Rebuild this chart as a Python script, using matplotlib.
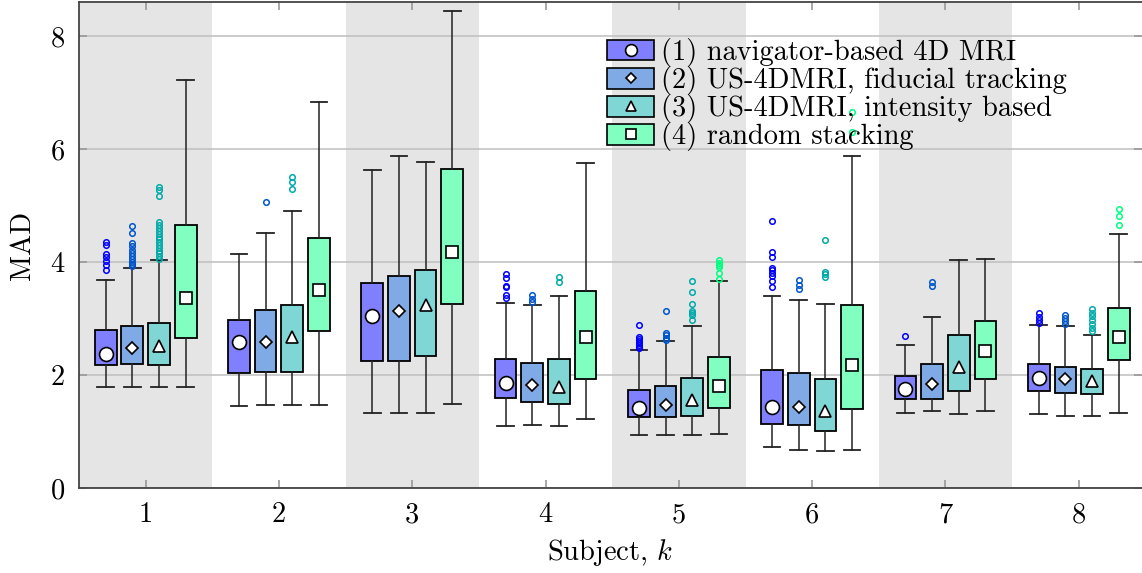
#!/usr/bin/env python3
"""Box plots of MAD per subject for four 4D MRI reconstruction methods."""

import matplotlib

matplotlib.use("Agg")
import matplotlib.pyplot as plt  # noqa: E402
from matplotlib.lines import Line2D  # noqa: E402
from matplotlib.patches import Rectangle  # noqa: E402

subjects = [1, 2, 3, 4, 5, 6, 7, 8]
labels = [
    "(1) navigator-based 4D MRI",
    "(2) US-4DMRI, fiducial tracking",
    "(3) US-4DMRI, intensity based",
    "(4) random stacking",
]

# per-method summary values (one entry per subject)
nav_q1 = [2.17, 2.03, 2.25, 1.60, 1.25, 1.13, 1.58, 1.72]
nav_q3 = [2.80, 2.97, 3.63, 2.28, 1.73, 2.09, 1.99, 2.19]
nav_med = [2.37, 2.58, 3.04, 1.85, 1.42, 1.44, 1.75, 1.94]
nav_lo = [1.79, 1.45, 1.33, 1.10, 0.94, 0.73, 1.33, 1.31]
nav_hi = [3.68, 4.14, 5.62, 3.28, 2.44, 3.39, 2.53, 2.88]
nav_out = [
    [4.36, 4.30, 4.14, 4.08, 4.01, 3.95, 3.86], [], [],
    [3.78, 3.72, 3.58, 3.55, 3.41, 3.36],
    [2.88, 2.68, 2.64, 2.60, 2.56, 2.53, 2.50, 2.47],
    [4.73, 4.17, 4.09, 3.89, 3.85, 3.80, 3.75, 3.67, 3.56],
    [2.69], [3.10, 3.03, 2.97, 2.92],
]

fid_q1 = [2.19, 2.06, 2.24, 1.53, 1.26, 1.12, 1.58, 1.68]
fid_q3 = [2.87, 3.15, 3.76, 2.22, 1.81, 2.03, 2.19, 2.15]
fid_med = [2.47, 2.58, 3.13, 1.82, 1.46, 1.44, 1.84, 1.92]
fid_lo = [1.79, 1.46, 1.33, 1.12, 0.94, 0.67, 1.36, 1.27]
fid_hi = [3.90, 4.51, 5.88, 3.23, 2.60, 3.33, 3.03, 2.87]
fid_out = [
    [4.64, 4.52, 4.34, 4.28, 4.22, 4.16, 4.11, 4.05, 4.00, 3.96, 3.92],
    [5.06], [], [3.42, 3.35, 3.30], [3.13, 2.74, 2.70, 2.66, 2.62],
    [3.68, 3.59, 3.53], [3.65, 3.58], [3.06, 3.00, 2.95, 2.90],
]

int_q1 = [2.17, 2.06, 2.34, 1.49, 1.27, 1.00, 1.71, 1.66]
int_q3 = [2.92, 3.23, 3.85, 2.28, 1.95, 1.92, 2.71, 2.10]
int_med = [2.51, 2.68, 3.24, 1.79, 1.55, 1.36, 2.14, 1.89]
int_lo = [1.79, 1.47, 1.33, 1.10, 0.94, 0.66, 1.31, 1.27]
int_hi = [4.03, 4.91, 5.76, 3.39, 2.87, 3.26, 4.04, 2.71]
int_out = [
    [5.32, 5.27, 5.17, 4.70, 4.65, 4.60, 4.55, 4.50, 4.45, 4.40, 4.35,
     4.30, 4.25, 4.20, 4.15, 4.10, 4.05],
    [5.51, 5.42, 5.29], [], [3.74, 3.65],
    [3.66, 3.46, 3.26, 3.14, 3.10, 3.06, 2.98],
    [4.39, 3.83, 3.79, 3.74], [],
    [3.16, 3.10, 3.04, 2.98, 2.90, 2.84, 2.78],
]

rnd_q1 = [2.65, 2.77, 3.26, 1.92, 1.42, 1.39, 1.92, 2.27]
rnd_q3 = [4.65, 4.43, 5.64, 3.49, 2.31, 3.23, 2.96, 3.18]
rnd_med = [3.37, 3.50, 4.17, 2.67, 1.80, 2.17, 2.42, 2.67]
rnd_lo = [1.79, 1.47, 1.48, 1.22, 0.96, 0.67, 1.36, 1.33]
rnd_hi = [7.22, 6.83, 8.44, 5.75, 3.67, 5.87, 4.05, 4.49]
rnd_out = [
    [], [], [], [], [4.04, 3.99, 3.95, 3.91, 3.81, 3.69],
    [6.65, 6.30], [], [4.94, 4.82, 4.65],
]

METHODS = [
    (nav_q1, nav_q3, nav_med, nav_lo, nav_hi, nav_out),
    (fid_q1, fid_q3, fid_med, fid_lo, fid_hi, fid_out),
    (int_q1, int_q3, int_med, int_lo, int_hi, int_out),
    (rnd_q1, rnd_q3, rnd_med, rnd_lo, rnd_hi, rnd_out),
]
BASE = ["#0000ff", "#0055cc", "#00aaaa", "#00ff80"]
FILL = ["#8080ff", "#80aae6", "#80d5d5", "#80ffc0"]
MARKERS = [("o", 10), ("D", 6.5), ("^", 8), ("s", 9)]
OFFSETS = [-0.3, -0.1, 0.1, 0.3]

plt.rcParams.update({
    "font.family": ["cmr10", "DejaVu Serif"],
    "mathtext.fontset": "cm",
    "axes.formatter.use_mathtext": True,
    "font.size": 20.5,
})


def draw_method(ax, i):
    q1, q3, med, lo, hi, out = METHODS[i]
    stats = []
    for k in range(len(subjects)):
        stats.append({"q1": q1[k], "q3": q3[k], "med": med[k], "mean": med[k],
                      "whislo": lo[k], "whishi": hi[k], "fliers": out[k]})
    pos = [s + OFFSETS[i] for s in subjects]
    mk, ms = MARKERS[i]
    ax.bxp(stats, positions=pos, widths=0.163, capwidths=0.125,
           showmeans=True, patch_artist=True,
           boxprops=dict(facecolor=FILL[i], edgecolor="black", linewidth=1.3),
           whiskerprops=dict(color="#222222", linewidth=1.1),
           capprops=dict(color="#222222", linewidth=1.3),
           medianprops=dict(linewidth=0),
           meanprops=dict(marker=mk, markersize=ms, markerfacecolor="white",
                          markeredgecolor="black", markeredgewidth=1.2),
           flierprops=dict(marker="o", markersize=4, markerfacecolor="none",
                           markeredgecolor=BASE[i], markeredgewidth=1.1))


def main():
    fig = plt.figure(figsize=(11.42, 5.73), dpi=100)
    ax = fig.add_axes([79 / 1142, 85 / 573, 1063 / 1142, 486 / 573])

    for s in subjects[::2]:
        ax.axvspan(s - 0.5, s + 0.5, color="#e5e5e5", lw=0, zorder=0)
    ax.set_axisbelow(True)
    ax.yaxis.grid(True, color="#bfbfbf", linewidth=1.1)

    for i in range(len(METHODS)):
        draw_method(ax, i)

    ax.set_xlim(0.5, 0.5 + 1063 / 133.3)
    ax.set_ylim(0, 8.6)
    ax.set_xticks(subjects)
    ax.set_xticklabels([str(s) for s in subjects])
    ax.set_yticks([0, 2, 4, 6, 8])
    ax.tick_params(direction="in", top=True, right=True, color="#999999",
                   length=6, width=1.2, pad=10)
    ax.spines["right"].set_visible(False)
    for side in ("left", "bottom", "top"):
        ax.spines[side].set_color("#444444")
        ax.spines[side].set_linewidth(1.3)

    ax.set_xlabel("Subject, $k$", labelpad=6)
    ax.set_ylabel("MAD", labelpad=10)

    handles = []
    for i in range(len(METHODS)):
        mk, ms = MARKERS[i]
        patch = Rectangle((0, 0), 1, 1, facecolor=FILL[i], edgecolor="black", lw=1.2)
        mark = Line2D([], [], marker=mk, markersize=ms * 0.85, linestyle="none",
                      markerfacecolor="white", markeredgecolor="black",
                      markeredgewidth=1.2)
        handles.append((patch, mark))
    ax.legend(handles, labels, loc="upper left", bbox_to_anchor=(0.497, 0.926),
              frameon=False, handlelength=1.65, handleheight=0.75,
              handletextpad=0.25, labelspacing=-0.03, borderaxespad=0,
              borderpad=0)

    fig.savefig("out.png", dpi=100)
    plt.close(fig)


if __name__ == "__main__":
    main()
